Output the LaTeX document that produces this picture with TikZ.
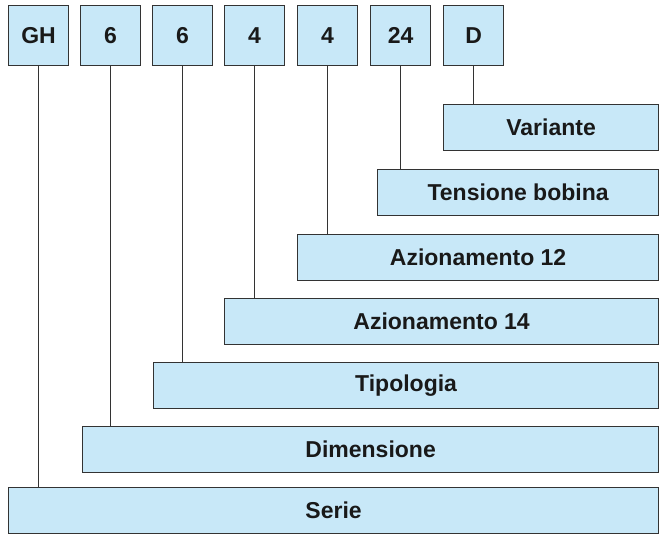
\documentclass[tikz,border=0pt]{standalone}
\usepackage{fontspec}
\setmainfont{Liberation Sans}
\begin{document}
\begin{tikzpicture}[x=1pt,y=-1pt,
  box/.style={draw=black!80, line width=1.2pt, fill=boxblue, rectangle, inner sep=0pt,
    anchor=north west, font=\fontsize{23}{26}\selectfont\bfseries, text=black!90},
  code/.style={box, minimum width=60pt, minimum height=60pt},
  field/.style={box, minimum height=46pt},
  conn/.style={draw=black!80, line width=1.1pt}]
\definecolor{boxblue}{HTML}{C8E8F8}
\useasboundingbox (0,0) rectangle (660,534);
% code boxes
\node[code] (gh) at (8,5) {GH};
\node[code] (c6a) at (80,5) {6};
\node[code] (c6b) at (152,5) {6};
\node[code] (c4a) at (224,5) {4};
\node[code] (c4b) at (297,5) {4};
\node[code] (c24) at (370,5) {24};
\node[code] (cd) at (443,5) {D};
% field boxes
\node[field, minimum width=215pt] (variante) at (443,104) {Variante};
\node[field, minimum width=281pt] (tensione) at (377,169) {Tensione bobina};
\node[field, minimum width=361pt] (az12) at (297,234) {Azionamento 12};
\node[field, minimum width=434pt] (az14) at (224,298) {Azionamento 14};
\node[field, minimum width=505pt] (tipologia) at (153,362) {Tipologia};
\node[field, minimum width=576pt] (dimensione) at (82,426) {Dimensione};
\node[field, minimum width=650pt] (serie) at (8,487) {Serie};
% connectors
\draw[conn] (cd.south) -- (cd.south |- variante.north);
\draw[conn] (c24.south) -- (c24.south |- tensione.north);
\draw[conn] (c4b.south) -- (c4b.south |- az12.north);
\draw[conn] (c4a.south) -- (c4a.south |- az14.north);
\draw[conn] (c6b.south) -- (c6b.south |- tipologia.north);
\draw[conn] (c6a.south) -- (c6a.south |- dimensione.north);
\draw[conn] (gh.south) -- (gh.south |- serie.north);
\end{tikzpicture}
\end{document}
